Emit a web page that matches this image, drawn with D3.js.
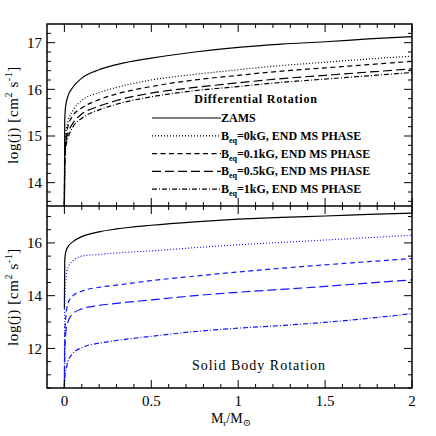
<!DOCTYPE html>
<html>
<head>
<meta charset="utf-8">
<script src="https://cdn.jsdelivr.net/npm/d3@7"></script>
<style>
  body { margin: 0; background: #fff; }
  text { font-family: "Liberation Serif", "DejaVu Serif", serif; fill: #000; }
</style>
</head>
<body>
<div id="chart"></div>
<script>
// mass coordinate M_r/M_sun
const mass = [0, 0.002, 0.005, 0.01, 0.02, 0.05, 0.1, 0.2, 0.3, 0.5, 0.75, 1, 1.25, 1.5, 1.75, 2];

// log(j) values
const zams = [13.5, 15.3, 15.55, 15.7, 15.85, 16.05, 16.24, 16.42, 16.53, 16.67, 16.8, 16.9, 16.97, 17.02, 17.08, 17.13];

// upper panel: differential rotation, end of MS
const diff0 = [13.5, 14.5, 14.9, 15.1, 15.3, 15.55, 15.76, 15.93, 16.04, 16.2, 16.32, 16.42, 16.51, 16.58, 16.65, 16.71];
const diff01 = [13.5, 14.45, 14.8, 15.0, 15.2, 15.44, 15.6, 15.78, 15.9, 16.06, 16.2, 16.3, 16.39, 16.46, 16.53, 16.6];
const diff05 = [13.5, 14.4, 14.7, 14.9, 15.05, 15.28, 15.47, 15.64, 15.76, 15.92, 16.04, 16.14, 16.23, 16.3, 16.37, 16.44];
const diff1 = [13.5, 14.3, 14.6, 14.8, 14.95, 15.2, 15.38, 15.56, 15.68, 15.84, 15.97, 16.06, 16.15, 16.22, 16.29, 16.36];

// lower panel: solid body rotation, end of MS
const solid0 = [10.5, 13.5, 14.3, 14.7, 15.05, 15.33, 15.5, 15.56, 15.62, 15.7, 15.82, 15.93, 16.02, 16.11, 16.2, 16.29];
const solid01 = [10.5, 12.3, 12.9, 13.3, 13.7, 14.0, 14.17, 14.32, 14.4, 14.57, 14.74, 14.9, 15.04, 15.17, 15.29, 15.41];
const solid05 = [10.5, 11.8, 12.3, 12.7, 13.0, 13.32, 13.5, 13.63, 13.71, 13.84, 14.0, 14.13, 14.24, 14.35, 14.48, 14.6];
const solid1 = [10.5, 10.8, 11.1, 11.2, 11.5, 11.82, 12.03, 12.2, 12.3, 12.46, 12.64, 12.77, 12.87, 12.99, 13.14, 13.32];

const legendLabels = ["ZAMS", "=0kG, END MS PHASE", "=0.1kG, END MS PHASE", "=0.5kG, END MS PHASE", "=1kG, END MS PHASE"];
const xTicks = [0, 0.5, 1, 1.5, 2];
const yTicksTop = [14, 15, 16, 17];
const yTicksBottom = [12, 14, 16];

const W = 436, H = 436;
const pLeft = 47, pRight = 412, pTop = 24, pMid = 206, pBottom = 388;

const dashes = [null, "1,2", "5,3.5", "9,4", "5,2,1,2"];

const svg = d3.select("#chart").append("svg")
  .attr("width", W).attr("height", H);

const x = d3.scaleLinear().domain([-0.1, 2]).range([pLeft, pRight]);
const yTop = d3.scaleLinear().domain([13.5, 17.4]).range([pMid, pTop]);
const yBot = d3.scaleLinear().domain([10.5, 17.4]).range([pBottom, pMid]);

function panel(id, y, y0, y1, majors, minorStep, series, colors) {
  const g = svg.append("g");
  g.append("clipPath").attr("id", id).append("rect")
    .attr("x", pLeft).attr("y", y0).attr("width", pRight - pLeft).attr("height", y1 - y0);

  const line = d3.line()
    .x((d, i) => x(mass[i]))
    .y(d => y(d))
    .curve(d3.curveMonotoneX);

  g.append("g").attr("clip-path", `url(#${id})`)
    .selectAll("path").data(series).join("path")
    .attr("d", line)
    .attr("fill", "none")
    .attr("stroke", (d, i) => colors[i])
    .attr("stroke-width", 1.2)
    .attr("stroke-dasharray", (d, i) => dashes[i]);

  // ticks on all four sides
  const xMinor = d3.range(0, 20.5, 1).map(v => v / 10);
  const yDom = y.domain();
  const yMinor = d3.range(Math.ceil(yDom[0] / minorStep), Math.floor(yDom[1] / minorStep) + 1).map(v => +(v * minorStep).toFixed(2));
  const isMajorX = v => Math.abs(v * 2 - Math.round(v * 2)) < 1e-6;
  const isMajorY = v => majors.includes(v);

  const tk = g.append("g").attr("stroke", "#000").attr("stroke-width", 1);
  xMinor.forEach(v => {
    const len = isMajorX(v) ? 8 : 4;
    tk.append("line").attr("x1", x(v)).attr("x2", x(v)).attr("y1", y1).attr("y2", y1 - len);
    tk.append("line").attr("x1", x(v)).attr("x2", x(v)).attr("y1", y0).attr("y2", y0 + len);
  });
  yMinor.forEach(v => {
    const len = isMajorY(v) ? 8 : 4;
    tk.append("line").attr("x1", pLeft).attr("x2", pLeft + len).attr("y1", y(v)).attr("y2", y(v));
    tk.append("line").attr("x1", pRight).attr("x2", pRight - len).attr("y1", y(v)).attr("y2", y(v));
  });

  g.append("g").selectAll("text").data(majors).join("text")
    .attr("x", pLeft - 5).attr("y", d => y(d))
    .attr("dy", "0.35em")
    .attr("text-anchor", "end")
    .attr("font-size", 15)
    .text(d => d);

  // y title
  const cy = (y0 + y1) / 2;
  const t = g.append("text")
    .attr("transform", `translate(18,${cy}) rotate(-90)`)
    .attr("text-anchor", "middle")
    .attr("font-size", 15)
    .attr("letter-spacing", 0.6);
  t.append("tspan").text("log(j)  [cm");
  t.append("tspan").attr("font-size", 10).attr("dy", -6).text("2");
  t.append("tspan").attr("dy", 6).text(" s");
  t.append("tspan").attr("font-size", 10).attr("dy", -6).text("-1");
  t.append("tspan").attr("dy", 6).text("]");
}

panel("clipTop", yTop, pTop, pMid, yTicksTop, 0.2,
  [zams, diff0, diff01, diff05, diff1], ["#000", "#000", "#000", "#000", "#000"]);
panel("clipBot", yBot, pMid, pBottom, yTicksBottom, 0.5,
  [zams, solid0, solid01, solid05, solid1], ["#000", "#1414ff", "#1414ff", "#1414ff", "#1414ff"]);

// frames
svg.append("rect").attr("x", pLeft).attr("y", pTop).attr("width", pRight - pLeft).attr("height", pBottom - pTop)
  .attr("fill", "none").attr("stroke", "#000").attr("stroke-width", 1.5);
svg.append("line").attr("x1", pLeft).attr("x2", pRight).attr("y1", pMid).attr("y2", pMid)
  .attr("stroke", "#000").attr("stroke-width", 1.5);

// x tick labels
svg.append("g").selectAll("text").data(xTicks).join("text")
  .attr("x", d => x(d)).attr("y", 406)
  .attr("text-anchor", "middle")
  .attr("font-size", 15)
  .text(d => d);

// x title
const xt = svg.append("text").attr("x", 231).attr("y", 423).attr("text-anchor", "middle").attr("font-size", 14);
xt.append("tspan").text("M");
xt.append("tspan").attr("font-size", 9).attr("dy", 3).text("r");
xt.append("tspan").attr("dy", -3).text("/M");
xt.append("tspan").attr("font-size", 10).attr("dy", 3).text("⊙");

// legend
svg.append("text").attr("x", 256).attr("y", 103).attr("text-anchor", "middle")
  .attr("font-size", 12).attr("font-weight", "bold").attr("letter-spacing", 0.8)
  .text("Differential Rotation");

const lg = svg.append("g");
legendLabels.forEach((lab, i) => {
  const ly = 118 + i * 17.8;
  lg.append("line").attr("x1", 152).attr("x2", 221).attr("y1", ly).attr("y2", ly)
    .attr("stroke", "#000").attr("stroke-width", 1.2).attr("stroke-dasharray", dashes[i]);
  const t = lg.append("text").attr("x", 221).attr("y", ly + 4).attr("font-size", 12).attr("font-weight", "bold");
  if (i === 0) {
    t.text(lab);
  } else {
    t.append("tspan").text("B");
    t.append("tspan").attr("font-size", 8).attr("dy", 3).text("eq");
    t.append("tspan").attr("dy", -3).text(lab);
  }
});

svg.append("text").attr("x", 259).attr("y", 370).attr("text-anchor", "middle")
  .attr("font-size", 14).attr("letter-spacing", 1)
  .text("Solid Body Rotation");
</script>
</body>
</html>
